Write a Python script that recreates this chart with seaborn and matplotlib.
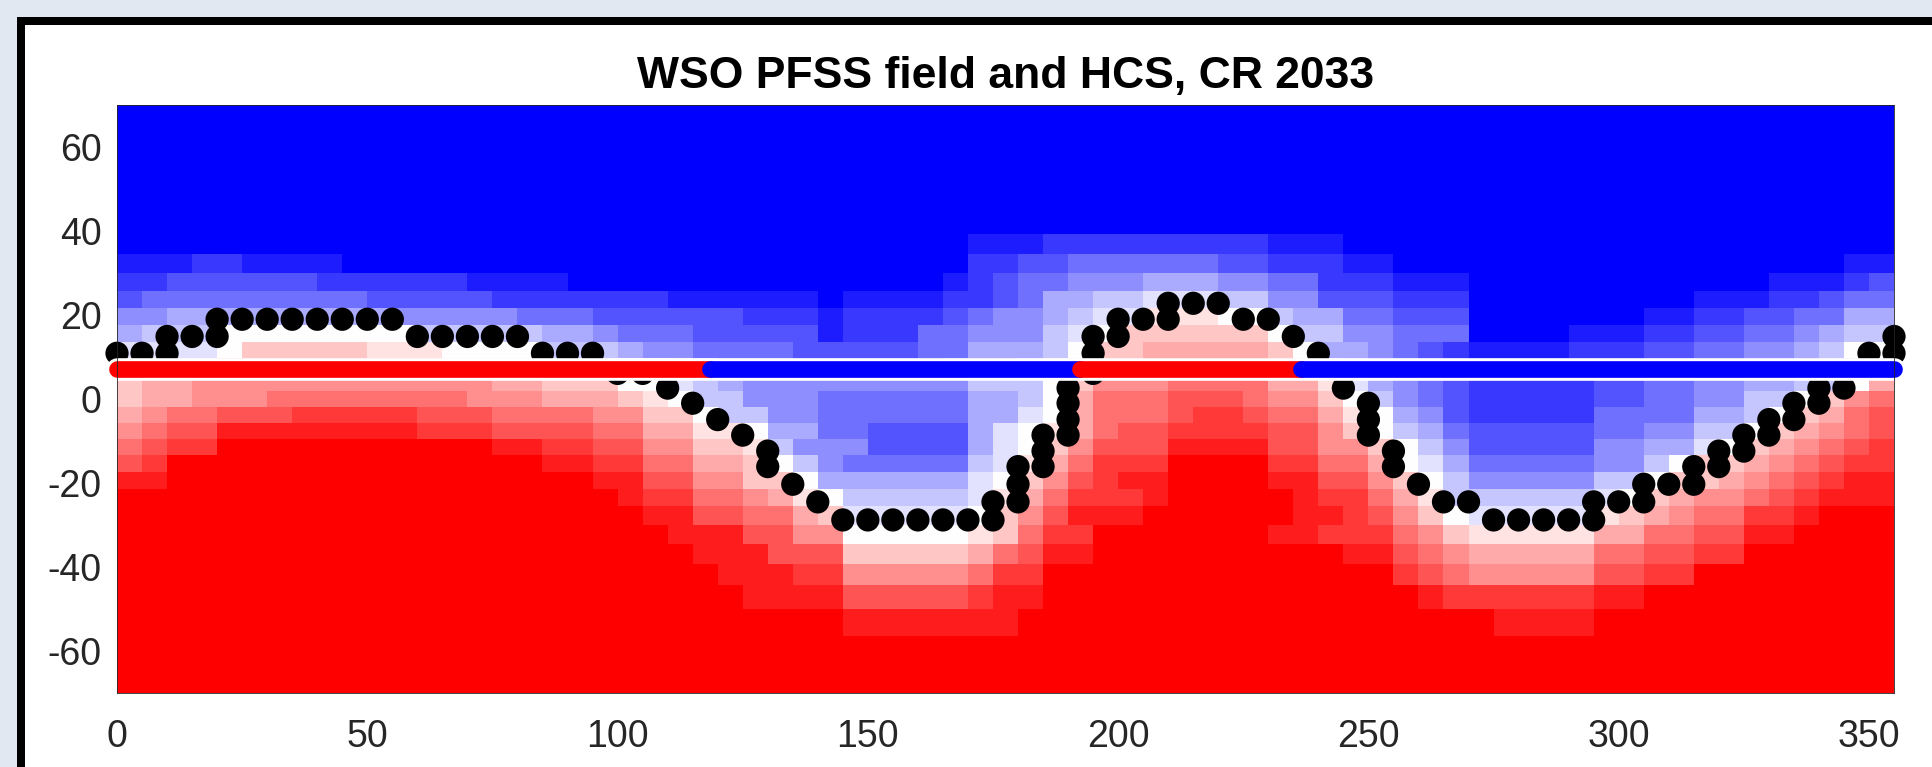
import numpy as np
import pandas as pd
import matplotlib
matplotlib.use("Agg")
import matplotlib.pyplot as plt
import seaborn as sns
from matplotlib.colors import LinearSegmentedColormap
from matplotlib.patches import Rectangle

# ---------------- data ----------------
title = "WSO PFSS field and HCS, CR 2033"
x_ticks = [0, 50, 100, 150, 200, 250, 300, 350]
y_ticks = [-60, -40, -20, 0, 20, 40, 60]

# WSO grid: 5 deg in longitude, sine-latitude rows
lon_edges = np.arange(0, 360, 5)
lat_edges = np.degrees(np.arcsin(np.arange(-14.5, 15.5, 1.0) / 15.0))

# Field level per cell, run-length coded per latitude row.
# symbols: 'a'..'i' = blue -1..-9, '0' = white, '1'..'9' = red +1..+9
field_rows = {
    24: "i71",
    23: "i34 h3 g9 h3 i22",
    22: "h3 g2 h4 i25 g2 f2 e6 f2 g3 h2 i18 h2",
    21: "g2 f6 g6 h4 i15 h1 g1 f1 e2 d3 c3 d2 e2 g3 h3 i12 h3 g1 f1",
    20: "f1 e9 f5 g7 h6 i1 h4 g2 f1 e1 c2 b2 a3 b2 d2 f3 g3 i9 h3 g2 f1 e2",
    19: "d2 c9 d5 e3 f6 g3 h1 g4 f1 e1 d2 c1 b1 a2 13 02 b1 c2 e2 f3 i7 h2 g2 f2 e2 c2",
    18: "c1 b3 08 b5 c2 d1 e3 f5 h1 g3 e2 d3 b1 a1 01 26 01 b2 d2 e3 i4 h3 g2 f2 e2 d1 c1 b2",
    17: "a4 01 25 13 04 b3 c1 d2 e4 f5 e2 c3 b1 01 22 35 21 01 c2 d1 e1 f1 g1 h4 g3 f2 e2 d2 c1 b1 02",
    16: "14 36 23 14 13 02 a1 b1 d3 e6 d1 c2 b1 a1 11 32 45 31 11 a1 b1 d2 e1 f1 g4 g3 f2 e2 d2 c1 b1 a1 11",
    15: "21 32 412 32 23 02 a1 b1 c1 d9 b3 01 21 43 54 32 11 a1 c1 d1 e1 f1 g5 f2 e2 d2 c2 b2 01 31",
    14: "21 32 43 58 43 33 21 11 01 b2 d3 e6 c2 b1 01 31 53 63 51 42 21 01 b1 d1 e1 f1 g5 f2 e2 d2 b2 01 21 41 51",
    13: "31 41 52 63 75 63 54 42 22 01 b2 d2 e6 c2 a1 01 31 53 61 72 61 52 31 11 01 c1 d1 f1 g5 e4 c2 b1 01 21 31 51 61",
    12: "41 51 62 88 73 64 52 32 12 01 c2 e2 f4 c1 a1 01 11 31 51 62 74 62 41 21 01 b1 c1 e1 f5 e2 d2 b2 01 21 31 41 51 61",
    11: "51 61 72 911 82 72 62 42 22 11 b1 d3 f4 c1 a1 01 21 41 63 84 62 42 21 01 b1 d1 f5 d2 c2 a1 01 21 31 41 51 61 71",
    10: "61 71 915 82 72 52 32 21 01 b1 d1 e5 b1 a1 11 31 51 73 94 72 52 31 01 a1 c1 e5 d2 b1 01 22 31 41 51 61 72",
    9: "82 917 82 62 42 22 01 c6 a1 01 21 41 61 71 82 94 82 62 41 21 01 b1 d5 b2 01 22 31 41 51 61 71 82",
    8: "920 81 72 52 41 31 11 01 b5 a1 11 31 51 73 81 95 81 72 51 31 11 b1 b5 a1 01 21 31 42 51 61 71 83",
    7: "921 82 62 52 31 21 a5 01 21 41 61 83 96 82 71 61 41 21 01 a5 11 21 31 41 52 72 81 93",
    6: "922 83 62 42 05 11 21 51 72 97 82 73 51 41 21 15 32 52 62 82 94",
    5: "923 83 63 25 31 51 61 82 910 82 61 51 41 35 52 62 72 96",
    4: "924 83 72 45 51 72 914 71 61 51 45 62 72 98",
    3: "925 84 65 71 82 915 81 71 75 82 910",
    2: "929 87 919 84 912",
}

# HCS points (longitude, latitude)
hcs_lon = [0, 5, 10, 10, 15, 20, 20, 25, 30, 35, 40, 45, 50, 55, 60, 65, 70, 75, 80,
           85, 90, 95, 100, 105, 110, 115, 120, 125, 130, 130, 135, 140,
           145, 150, 155, 160, 165, 170, 175, 175, 180, 180, 180, 185, 185, 185,
           190, 190, 190, 190, 195, 195, 195, 200, 200, 205, 210, 210, 215, 220,
           225, 230, 235, 240, 245, 250, 250, 250, 255, 255, 260, 265, 270,
           275, 280, 285, 290, 295, 295, 300, 305, 305, 310, 315, 315, 320, 320,
           325, 325, 330, 330, 335, 335, 340, 340, 345, 350, 355, 355]
hcs_lat = [10.8, 10.8, 10.8, 14.8, 14.8, 14.8, 18.9, 18.9, 18.9, 18.9, 18.9, 18.9, 18.9, 18.9,
           14.8, 14.8, 14.8, 14.8, 14.8,
           10.8, 10.8, 10.8, 6.0, 6.0, 2.5, -1.1, -5.0, -8.7, -12.5, -16.2, -20.4, -24.6,
           -28.9, -28.9, -28.9, -28.9, -28.9, -28.9, -28.9, -24.6, -16.2, -20.4, -24.6,
           -8.7, -12.5, -16.2,
           2.5, -1.1, -5.0, -8.7, 14.8, 10.8, 6.0, 18.9, 14.8, 18.9, 22.7, 18.9, 22.7, 22.7,
           18.9, 18.9, 14.8, 10.8, 2.5, -1.1, -5.0, -8.7, -12.5, -16.2, -20.4, -24.6, -24.6,
           -28.9, -28.9, -28.9, -28.9, -28.9, -24.6, -24.6, -24.6, -20.4, -20.4, -20.4, -16.2,
           -16.2, -12.5, -12.5, -8.7, -8.7, -5.0, -5.0, -1.1, -1.1, 2.5, 2.5, 10.8, 10.8, 14.8]

# Earth's latitude track and polarity segments
earth_lat = 7.0
earth_seg_lon = [0, 118.5, 192.3, 236.6, 355]
earth_seg_pol = ["+", "-", "+", "-"]

# ---------------- build field grid ----------------
n_rows = len(lat_edges) - 1
n_cols = len(lon_edges) - 1


def level(ch):
    if ch.isdigit():
        return int(ch)
    return -(ord(ch) - ord("a") + 1)


grid = np.zeros((n_rows, n_cols))
for r in range(n_rows):
    if r in field_rows:
        vals = []
        for tok in field_rows[r].split():
            vals += [level(tok[0])] * int(tok[1:])
        vals = (vals + [vals[-1]] * n_cols)[:n_cols]
        grid[r] = vals
    elif r < 2:
        grid[r] = 9
    else:
        grid[r] = -9

cmap = LinearSegmentedColormap.from_list("bwr_pure", [(0, 0, 1), (1, 1, 1), (1, 0, 0)])

# ---------------- figure ----------------
sns.set_theme(style="white")
plt.rcParams["font.family"] = ["Liberation Sans", "DejaVu Sans"]
plt.rcParams["axes.unicode_minus"] = False

W, H = 1932, 767
fig = plt.figure(figsize=(W / 100, H / 100), dpi=100)
fig.patch.set_facecolor("#e2e8f2")
panel = Rectangle((21 / W, -0.2), 2.0, (H - 21) / H + 0.2, transform=fig.transFigure,
                  facecolor="white", edgecolor="black", linewidth=8 * 0.72, zorder=-10)
fig.add_artist(panel)

ax = fig.add_axes([117 / W, (H - 692.5) / H, (1894 - 117) / W, (692.5 - 104.7) / H])
ax.pcolormesh(lon_edges, lat_edges, grid, cmap=cmap, vmin=-9, vmax=9, shading="flat", zorder=0)

sns.scatterplot(x=hcs_lon, y=hcs_lat, s=280, color="black", edgecolor="none", linewidth=0,
                ax=ax, zorder=3, clip_on=False, legend=False)

# white under-line then polarity-coloured segments
ax.plot([earth_seg_lon[0], earth_seg_lon[-1]], [earth_lat, earth_lat], color="white",
        linewidth=16.3, solid_capstyle="round", zorder=4, clip_on=False)
rows = []
for i, pol in enumerate(earth_seg_pol):
    for lon in (earth_seg_lon[i], earth_seg_lon[i + 1]):
        rows.append({"lon": lon, "lat": earth_lat, "seg": f"s{i}"})
line_df = pd.DataFrame(rows)
palette = {f"s{i}": ("#ff0000" if p == "+" else "#0000ff") for i, p in enumerate(earth_seg_pol)}
sns.lineplot(data=line_df, x="lon", y="lat", hue="seg", palette=palette, estimator=None,
             sort=False, linewidth=12, solid_capstyle="round", legend=False, ax=ax,
             zorder=5, clip_on=False)

ax.set_xlim(0, 355)
ax.set_ylim(-70, 70)
ax.set_xticks(x_ticks)
ax.set_yticks(y_ticks)
ax.set_xlabel("")
ax.set_ylabel("")
ax.tick_params(length=0, labelsize=27, colors="#262626")
ax.tick_params(axis="x", pad=19)
ax.tick_params(axis="y", pad=11)
for sp in ax.spines.values():
    sp.set_visible(True)
    sp.set_color("#262626")
    sp.set_linewidth(0.6)
    sp.set_zorder(6)
ax.set_title(title, fontsize=32, fontweight="bold", pad=12, color="black")

fig.savefig("out.png", dpi=100, facecolor=fig.get_facecolor())
